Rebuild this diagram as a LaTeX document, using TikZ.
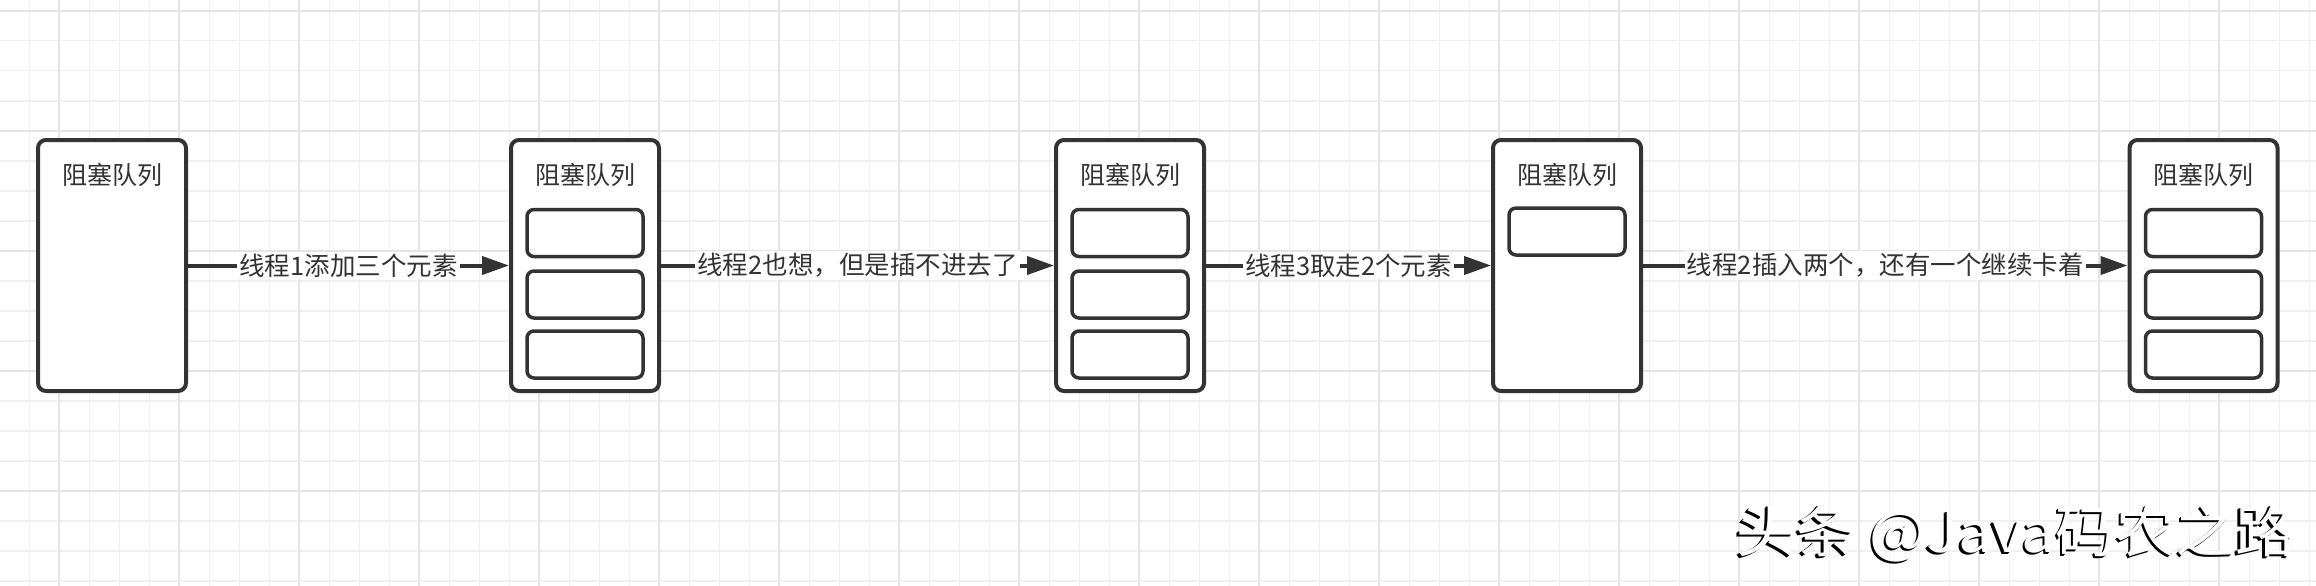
\documentclass[tikz,border=0pt]{standalone}
\usepackage{fontspec}
\newfontfamily\cjk{Noto Sans CJK SC}
\usetikzlibrary{arrows.meta}
\definecolor{linec}{HTML}{333333}
\definecolor{gridminor}{HTML}{F0F0F0}
\definecolor{gridmajor}{HTML}{E4E4E4}
\newcommand{\wmtext}{\scalebox{1.07}[1]{\cjk\fontsize{56}{64}\selectfont 头条 @Java码农之路}}
\tikzset{
  queuebox/.style={draw=linec, line width=4pt, rounded corners=8pt, fill=white,
    minimum width=148pt, minimum height=251pt, inner sep=0pt},
  slotbox/.style={draw=linec, line width=3.5pt, rounded corners=7pt, fill=white,
    minimum width=116pt, minimum height=47pt, inner sep=0pt},
  titletext/.style={text=linec, font=\cjk\fontsize{25}{30}\selectfont, inner sep=0pt},
  edgelabel/.style={fill=white, text=linec, font=\cjk\fontsize{25.5}{30}\selectfont, inner sep=2pt},
  flow/.style={draw=linec, line width=4pt, -{Triangle[length=27pt,width=18pt]}},
  gminor/.style={draw=gridminor, line width=1.6pt},
  gmajor/.style={draw=gridmajor, line width=2pt},
  wmark/.style={anchor=east, inner sep=0pt},
}
\begin{document}
\begin{tikzpicture}[x=1pt,y=-1pt]
\useasboundingbox (0,0) rectangle (2316,586);
\fill[white] (0,0) rectangle (2316,586);
% grid
\foreach \k in {0,...,76} { \draw[gminor] ({29.3+30*\k},0) -- ({29.3+30*\k},586); }
\foreach \k in {0,...,19} { \draw[gminor] (0,{10.7+30*\k}) -- (2316,{10.7+30*\k}); }
\foreach \k in {0,...,18} { \draw[gmajor] ({59.3+120*\k},0) -- ({59.3+120*\k},586); }
\foreach \k in {0,...,4} { \draw[gmajor] (0,{10.7+120*\k}) -- (2316,{10.7+120*\k}); }

% queues
\node[queuebox] (q1) at (112,265.5) {};
\node[queuebox] (q2) at (585,265.5) {};
\node[queuebox] (q3) at (1130,265.5) {};
\node[queuebox] (q4) at (1567,265.5) {};
\node[queuebox] (q5) at (2203.5,265.5) {};

\node[titletext] (t1) at (112,175) {阻塞队列};
\node[titletext] (t2) at (585,175) {阻塞队列};
\node[titletext] (t3) at (1130,175) {阻塞队列};
\node[titletext] (t4) at (1567,175) {阻塞队列};
\node[titletext] (t5) at (2203.5,175) {阻塞队列};

% slots
\node[slotbox] (s2a) at (585,233) {};
\node[slotbox] (s2b) at (585,294.5) {};
\node[slotbox] (s2c) at (585,354.5) {};
\node[slotbox] (s3a) at (1130,233) {};
\node[slotbox] (s3b) at (1130,294.5) {};
\node[slotbox] (s3c) at (1130,354.5) {};
\node[slotbox] (s4a) at (1567,231.5) {};
\node[slotbox] (s5a) at (2203.5,233) {};
\node[slotbox] (s5b) at (2203.5,294.5) {};
\node[slotbox] (s5c) at (2203.5,354.5) {};

% connectors
\draw[flow] (q1.east) -- node[edgelabel] (l1) {线程1添加三个元素} (q2.west);
\draw[flow] (q2.east) -- node[edgelabel] (l2) {线程2也想，但是插不进去了} (q3.west);
\draw[flow] (q3.east) -- node[edgelabel] (l3) {线程3取走2个元素} (q4.west);
\draw[flow] (q4.east) -- node[edgelabel] (l4) {线程2插入两个，还有一个继续卡着} (q5.west);

% watermark (dark text with a light inner highlight)
\node[wmark, text=black] (wm) at (2294,535) {\wmtext};
\node[wmark, text=black] (wmb) at (2293,536) {\wmtext};
\node[wmark, text=white] (wmw) at (2295.5,533.5) {\wmtext};
\end{tikzpicture}
\end{document}
